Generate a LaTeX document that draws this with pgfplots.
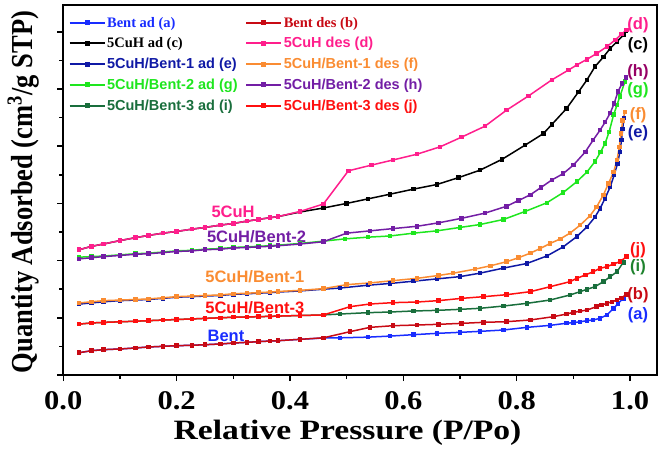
\documentclass[border=0pt]{standalone}
\usepackage{fontspec}
\setmainfont{Liberation Serif}
\newfontfamily\arial{Liberation Sans}
\newfontfamily\timestick[FakeStretch=1.13]{Liberation Serif}
\newfontfamily\timeslab[FakeStretch=1.2]{Liberation Serif}
\usepackage{pgfplots}
\pgfplotsset{compat=1.18}

\definecolor{cA}{RGB}{25,45,255}
\definecolor{cB}{RGB}{200,10,20}
\definecolor{cC}{RGB}{0,0,0}
\definecolor{cD}{RGB}{255,30,140}
\definecolor{cE}{RGB}{15,25,165}
\definecolor{cF}{RGB}{250,140,50}
\definecolor{cG}{RGB}{30,230,30}
\definecolor{cH}{RGB}{115,30,165}
\definecolor{cHlab}{RGB}{150,0,100}
\definecolor{cI}{RGB}{25,110,60}
\definecolor{cIlab}{RGB}{30,130,45}
\definecolor{cJ}{RGB}{255,15,15}

\begin{document}
\begin{tikzpicture}
\useasboundingbox (0,0) rectangle (661pt,450pt);
\begin{axis}[
  scale only axis, width=593.4pt, height=370.3pt,
  at={(63.3pt,75pt)}, anchor=south west,
  xmin=0, xmax=1.047, ymin=0, ymax=6.474,
  xtick={0,0.2,0.4,0.6,0.8,1.0},
  minor xtick={0.1,0.3,0.5,0.7,0.9},
  ytick={0,1,2,3,4,5,6},
  minor ytick={0.5,1.5,2.5,3.5,4.5,5.5},
  yticklabels={},
  xtick pos=bottom, ytick pos=left,
  tick align=outside,
  major tick length=6pt, minor tick length=4pt,
  every tick/.style={black, line width=1.5pt},
  axis line style={line width=2pt},
  /pgf/number format/.cd, fixed, fixed zerofill, precision=1, assume math mode=true,
  /pgfplots/.cd,
  xticklabel style={font=\timestick\bfseries\fontsize{27}{27}\selectfont, inner sep=0pt, anchor=north, yshift=-10pt},
  xlabel={Relative Pressure (P/Po)},
  xlabel style={font=\timeslab\bfseries\fontsize{28}{28}\selectfont, at={(axis description cs:0.479,-0.1755)}, anchor=base},
  ylabel={Quantity Adsorbed (cm$^{\mathbf{3}}$/g STP)},
  ylabel style={font=\bfseries\fontsize{26.5}{26.5}\selectfont, at={(axis description cs:-0.0527,0.494)}, anchor=base, yscale=1.15},
  every axis plot/.append style={line width=1.5pt, mark=square*, mark size=1.5pt},
  legend columns=2,
  legend cell align=left,
  legend style={draw=none, fill=none, at={(axis description cs:0,1)}, anchor=north west,
    xshift=5pt, yshift=-10.5pt, inner sep=0pt,
    font=\bfseries\fontsize{14.5}{17}\selectfont,
    nodes={inner sep=1.6pt},
    row sep=5.6pt,
    /tikz/every even column/.append style={column sep=6pt}},
  legend image code/.code={\draw[mark repeat=2, mark phase=2, line width=2pt, #1] plot coordinates {(0pt,0pt) (17.5pt,0pt) (35pt,0pt)};},
]
% Bent ad (a)
\addplot[color=cA, mark options={fill=cA}] coordinates {
(0.028,0.390)(0.050,0.425)(0.071,0.443)(0.100,0.455)(0.127,0.472)(0.150,0.490)(0.176,0.501)(0.200,0.513)(0.227,0.519)(0.250,0.530)(0.277,0.542)(0.300,0.559)(0.324,0.571)(0.344,0.583)(0.365,0.594)(0.379,0.600)(0.418,0.624)(0.459,0.647)
(0.488,0.650)(0.538,0.662)(0.576,0.680)(0.618,0.705)(0.659,0.728)(0.700,0.746)(0.735,0.763)(0.777,0.787)(0.818,0.833)(0.859,0.868)(0.888,0.905)(0.900,0.915)(0.912,0.930)(0.924,0.950)(0.935,0.962)(0.947,0.990)(0.959,1.049)(0.971,1.166)(0.979,1.250)(0.988,1.340)};
\addlegendentry{\textcolor{cA}{Bent ad (a)}}
% Bent des (b)
\addplot[color=cB, mark options={fill=cB}] coordinates {
(0.028,0.390)(0.050,0.425)(0.071,0.443)(0.100,0.455)(0.127,0.472)(0.150,0.490)(0.176,0.501)(0.200,0.513)(0.227,0.519)(0.250,0.530)(0.277,0.542)(0.300,0.559)(0.324,0.571)(0.344,0.583)(0.365,0.594)(0.379,0.600)(0.418,0.624)(0.459,0.650)
(0.506,0.758)(0.541,0.833)(0.582,0.862)(0.624,0.874)(0.662,0.886)(0.703,0.903)(0.741,0.921)(0.782,0.932)(0.824,0.962)(0.865,1.020)(0.888,1.066)(0.900,1.095)(0.912,1.115)(0.924,1.136)(0.941,1.195)(0.950,1.220)(0.959,1.253)(0.968,1.280)(0.977,1.311)(0.985,1.350)(0.994,1.410)};
\addlegendentry{\textcolor{cB}{Bent des (b)}}
% 5CuH ad (c)
\addplot[color=cC, mark options={fill=cC}] coordinates {
(0.028,2.19)(0.050,2.25)(0.071,2.29)(0.100,2.35)(0.127,2.40)(0.150,2.44)(0.176,2.48)(0.200,2.51)(0.227,2.55)(0.250,2.58)(0.277,2.62)(0.300,2.65)(0.324,2.69)(0.344,2.72)(0.365,2.75)(0.379,2.77)(0.418,2.85)(0.459,2.92)
(0.500,3.00)(0.538,3.08)(0.576,3.16)(0.618,3.25)(0.659,3.33)(0.697,3.45)(0.735,3.58)(0.774,3.77)(0.815,4.02)(0.847,4.22)(0.862,4.38)(0.888,4.66)(0.909,4.95)(0.924,5.16)(0.938,5.39)(0.953,5.56)(0.965,5.71)(0.977,5.83)(0.988,5.94)(0.993,6.02)};
\addlegendentry{\textcolor{cC}{5CuH ad (c)}}
% 5CuH des (d)
\addplot[color=cD, mark options={fill=cD}] coordinates {
(0.028,2.19)(0.050,2.25)(0.071,2.29)(0.100,2.35)(0.127,2.40)(0.150,2.44)(0.176,2.48)(0.200,2.51)(0.227,2.55)(0.250,2.58)(0.277,2.62)(0.300,2.65)(0.324,2.69)(0.344,2.72)(0.365,2.75)(0.379,2.77)(0.418,2.86)(0.459,2.99)
(0.503,3.57)(0.544,3.67)(0.582,3.76)(0.624,3.86)(0.665,3.99)(0.703,4.16)(0.744,4.35)(0.782,4.63)(0.821,4.88)(0.862,5.16)(0.891,5.33)(0.906,5.42)(0.924,5.52)(0.941,5.62)(0.959,5.74)(0.974,5.86)(0.985,5.96)(0.994,6.03)};
\addlegendentry{\textcolor{cD}{\arial 5CuH des (d)}}
% 5CuH/Bent-1 ad (e)
\addplot[color=cE, mark options={fill=cE}] coordinates {
(0.028,1.24)(0.050,1.26)(0.071,1.28)(0.100,1.30)(0.127,1.31)(0.150,1.32)(0.176,1.34)(0.200,1.36)(0.227,1.37)(0.250,1.38)(0.277,1.39)(0.300,1.41)(0.324,1.42)(0.344,1.43)(0.365,1.44)(0.379,1.45)(0.418,1.47)(0.459,1.50)
(0.488,1.52)(0.538,1.57)(0.576,1.60)(0.618,1.64)(0.659,1.68)(0.700,1.72)(0.735,1.78)(0.777,1.87)(0.818,1.95)(0.853,2.08)(0.882,2.24)(0.906,2.42)(0.924,2.59)(0.938,2.76)(0.947,2.91)(0.956,3.09)(0.965,3.29)(0.972,3.50)(0.978,3.70)(0.982,3.90)(0.985,4.11)(0.987,4.30)(0.989,4.49)};
\addlegendentry{\textcolor{cE}{\arial 5CuH/Bent-1 ad (e)}}
% 5CuH/Bent-1 des (f)
\addplot[color=cF, mark options={fill=cF}] coordinates {
(0.028,1.26)(0.050,1.28)(0.071,1.30)(0.100,1.31)(0.127,1.32)(0.150,1.33)(0.176,1.35)(0.200,1.37)(0.227,1.38)(0.250,1.39)(0.277,1.40)(0.300,1.42)(0.324,1.43)(0.344,1.44)(0.365,1.45)(0.379,1.46)(0.418,1.48)(0.459,1.51)
(0.500,1.58)(0.541,1.61)(0.582,1.65)(0.624,1.69)(0.662,1.74)(0.688,1.78)(0.726,1.85)(0.754,1.91)(0.782,1.98)(0.803,2.05)(0.824,2.13)(0.841,2.21)(0.859,2.30)(0.877,2.38)(0.894,2.48)(0.912,2.62)(0.929,2.78)(0.941,2.94)(0.953,3.15)(0.962,3.35)(0.971,3.55)(0.977,3.76)(0.981,3.99)(0.984,4.22)(0.987,4.45)(0.991,4.60)};
\addlegendentry{\textcolor{cF}{\arial 5CuH/Bent-1 des (f)}}
% 5CuH/Bent-2 ad (g)
\addplot[color=cG, mark options={fill=cG}] coordinates {
(0.028,2.06)(0.050,2.07)(0.071,2.08)(0.100,2.10)(0.127,2.12)(0.150,2.13)(0.176,2.15)(0.200,2.17)(0.227,2.18)(0.250,2.20)(0.277,2.21)(0.300,2.23)(0.324,2.24)(0.344,2.25)(0.365,2.26)(0.379,2.27)(0.418,2.30)(0.459,2.34)
(0.497,2.38)(0.538,2.41)(0.576,2.43)(0.618,2.48)(0.659,2.52)(0.700,2.58)(0.735,2.63)(0.777,2.72)(0.815,2.86)(0.853,3.01)(0.882,3.19)(0.906,3.38)(0.924,3.55)(0.938,3.73)(0.948,3.90)(0.956,4.05)(0.963,4.25)(0.971,4.55)(0.977,4.72)(0.982,4.87)(0.991,5.13)};
\addlegendentry{\textcolor{cG}{\arial 5CuH/Bent-2 ad (g)}}
% 5CuH/Bent-2 des (h)
\addplot[color=cH, mark options={fill=cH}] coordinates {
(0.028,2.03)(0.050,2.05)(0.071,2.07)(0.100,2.09)(0.127,2.11)(0.150,2.12)(0.176,2.14)(0.200,2.16)(0.227,2.17)(0.250,2.19)(0.277,2.20)(0.300,2.22)(0.324,2.23)(0.344,2.24)(0.365,2.25)(0.379,2.26)(0.418,2.29)(0.459,2.33)
(0.500,2.48)(0.541,2.52)(0.582,2.56)(0.624,2.60)(0.662,2.66)(0.703,2.74)(0.744,2.83)(0.782,2.95)(0.803,3.05)(0.824,3.15)(0.843,3.28)(0.862,3.41)(0.882,3.52)(0.900,3.67)(0.921,3.90)(0.935,4.11)(0.947,4.28)(0.956,4.42)(0.965,4.58)(0.972,4.75)(0.979,4.96)(0.986,5.10)(0.993,5.20)};
\addlegendentry{\textcolor{cH}{\arial 5CuH/Bent-2 des (h)}}
% 5CuH/Bent-3 ad (i)
\addplot[color=cI, mark options={fill=cI}] coordinates {
(0.028,0.89)(0.050,0.91)(0.071,0.92)(0.100,0.93)(0.127,0.94)(0.150,0.95)(0.176,0.96)(0.200,0.97)(0.227,0.98)(0.250,0.99)(0.277,1.00)(0.300,1.01)(0.324,1.015)(0.344,1.02)(0.365,1.025)(0.379,1.03)(0.418,1.04)(0.459,1.05)
(0.488,1.066)(0.538,1.090)(0.576,1.101)(0.618,1.119)(0.659,1.130)(0.700,1.148)(0.735,1.166)(0.777,1.206)(0.818,1.253)(0.859,1.311)(0.894,1.399)(0.912,1.457)(0.924,1.498)(0.938,1.544)(0.953,1.632)(0.965,1.719)(0.977,1.806)(0.988,1.970)};
\addlegendentry{\textcolor{cI}{\arial 5CuH/Bent-3 ad (i)}}
% 5CuH/Bent-3 des (j)
\addplot[color=cJ, mark options={fill=cJ}] coordinates {
(0.028,0.89)(0.050,0.91)(0.071,0.92)(0.100,0.93)(0.127,0.94)(0.150,0.95)(0.176,0.96)(0.200,0.97)(0.227,0.98)(0.250,0.99)(0.277,1.00)(0.300,1.01)(0.324,1.015)(0.344,1.02)(0.365,1.025)(0.379,1.03)(0.418,1.04)(0.459,1.05)
(0.506,1.195)(0.541,1.241)(0.582,1.265)(0.624,1.276)(0.662,1.300)(0.703,1.340)(0.741,1.369)(0.782,1.404)(0.824,1.457)(0.859,1.544)(0.894,1.632)(0.906,1.690)(0.921,1.748)(0.935,1.806)(0.947,1.865)(0.959,1.894)(0.971,1.941)(0.982,1.981)(0.994,2.069)};
\addlegendentry{\textcolor{cJ}{\arial 5CuH/Bent-3 des (j)}}

% sample names along the curves
\begin{scope}[every node/.style={font=\arial\bfseries\fontsize{16.5}{18}\selectfont, inner sep=0pt}]
\node[text=cD] at (axis cs:0.2995,2.858) {5CuH};
\node[text=cH] at (axis cs:0.341,2.418) {5CuH/Bent-2};
\node[text=cF] at (axis cs:0.338,1.713) {5CuH/Bent-1};
\node[text=cJ] at (axis cs:0.338,1.177) {5CuH/Bent-3};
\node[text=cA] at (axis cs:0.287,0.685) {Bent};
% curve tags at the high-pressure end
\node[text=cD] at (axis cs:1.014,6.12) {(d)};
\node[text=cC] at (axis cs:1.014,5.77) {(c)};
\node[text=cHlab] at (axis cs:1.014,5.30) {(h)};
\node[text=cG] at (axis cs:1.014,4.97) {(g)};
\node[text=cF] at (axis cs:1.014,4.55) {(f)};
\node[text=cE] at (axis cs:1.014,4.23) {(e)};
\node[text=cJ] at (axis cs:1.014,2.19) {(j)};
\node[text=cIlab] at (axis cs:1.014,1.89) {(i)};
\node[text=cB] at (axis cs:1.014,1.40) {(b)};
\node[text=cA] at (axis cs:1.014,1.05) {(a)};
\end{scope}
\end{axis}
\end{tikzpicture}
\end{document}
